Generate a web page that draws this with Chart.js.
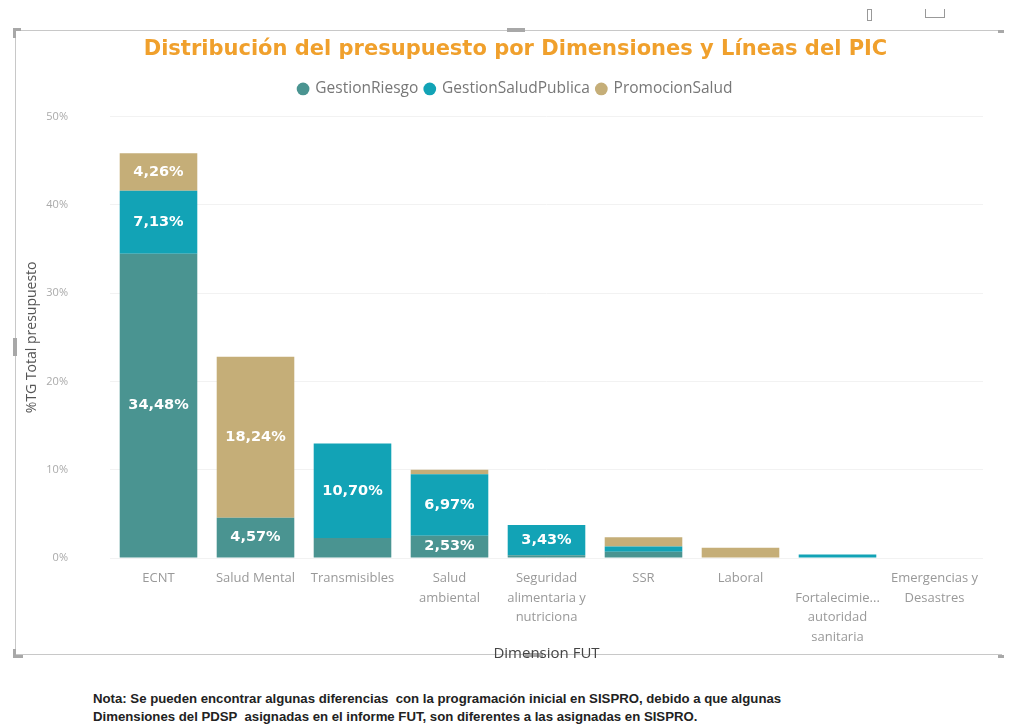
<!DOCTYPE html>
<html>
<head>
<meta charset="utf-8">
<script src="https://cdn.jsdelivr.net/npm/chart.js@4.4.1/dist/chart.umd.min.js"></script>
<style>
  body { margin: 0; background: #fff; width: 1010px; height: 728px; overflow: hidden; font-family: "Open Sans", sans-serif; position: relative; }
  #frame { position: absolute; left: 15px; top: 30px; width: 987px; height: 625px; border: 1px solid #c8c8c8; border-right: none; box-sizing: border-box; }
  #wrap { position: absolute; left: 16px; top: 31px; width: 983px; height: 634px; }
  .handle { position: absolute; background: #a8a8a8; }
  #note { position: absolute; left: 93px; top: 690px; font-family: "Liberation Sans", sans-serif; font-weight: bold; font-size: 13.2px; line-height: 18px; color: #222; white-space: pre; }
</style>
</head>
<body>
<div id="frame"></div>
<div class="handle" style="left:13px;top:28px;width:8px;height:3px;"></div>
<div class="handle" style="left:13px;top:28px;width:3px;height:10px;"></div>
<div class="handle" style="left:13px;top:649px;width:3px;height:9px;"></div>
<div class="handle" style="left:13px;top:655px;width:10px;height:3px;"></div>
<div class="handle" style="left:507px;top:28px;width:18px;height:4px;"></div>
<div class="handle" style="left:525px;top:653px;width:18px;height:4px;"></div>
<div class="handle" style="left:13px;top:338px;width:4px;height:18px;"></div>
<div class="handle" style="left:998px;top:30px;width:6px;height:3px;"></div>
<div class="handle" style="left:998px;top:655px;width:6px;height:3px;"></div>
<div style="position:absolute;left:867px;top:9px;width:3px;height:10px;border:1px solid #999;"></div>
<div style="position:absolute;left:925px;top:9px;width:18px;height:8px;border:1px solid #999;border-top:none;"></div>
<div id="wrap"><canvas id="chart"></canvas></div>
<div id="note">Nota: Se pueden encontrar algunas diferencias  con la programación inicial en SISPRO, debido a que algunas
Dimensiones del PDSP  asignadas en el informe FUT, son diferentes a las asignadas en SISPRO.</div>
<script>
var categories = [
  'ECNT',
  'Salud Mental',
  'Transmisibles',
  ['Salud', 'ambiental'],
  ['Seguridad', 'alimentaria y', 'nutriciona'],
  'SSR',
  'Laboral',
  ['', 'Fortalecimie...', 'autoridad', 'sanitaria'],
  ['Emergencias y', 'Desastres']
];
var gestionRiesgo       = [34.48, 4.57, 2.26, 2.53, 0.30, 0.70, 0, 0, 0];
var gestionSaludPublica = [7.13, 0, 10.70, 6.97, 3.43, 0.60, 0, 0.40, 0];
var promocionSalud      = [4.26, 18.24, 0, 0.50, 0, 1.05, 1.15, 0, 0];
var yTicks = [0, 10, 20, 30, 40, 50];

// labels Power BI shows inside the segments (big enough ones)
var labelMin = 2.5;

const barLabels = {
  id: 'barLabels',
  afterDatasetsDraw(chart) {
    const ctx = chart.ctx;
    ctx.save();
    ctx.font = 'bold 14.5px "DejaVu Sans"';
    ctx.fillStyle = '#ffffff';
    ctx.textAlign = 'center';
    ctx.textBaseline = 'middle';
    chart.data.datasets.forEach(function(ds, i) {
      chart.getDatasetMeta(i).data.forEach(function(bar, j) {
        var v = ds.data[j];
        if (v >= labelMin) {
          var txt = v.toFixed(2).replace('.', ',') + '%';
          ctx.fillText(txt, bar.x, (bar.y + bar.base) / 2);
        }
      });
    });
    ctx.restore();
  }
};

// title and legend sit a bit right of centre in the original visual
const shiftHeader = {
  id: 'shiftHeader',
  afterLayout(chart) {
    [chart.titleBlock, chart.legend].forEach(function(box) {
      if (box) {
        box.left += 12;
        box.right += 12;
      }
    });
  }
};

const data = {
  labels: categories,
  datasets: [{
    label: 'GestionRiesgo',
    backgroundColor: '#4a9491',
    data: gestionRiesgo
  },
  {
    label: 'GestionSaludPublica',
    backgroundColor: '#12a3b6',
    data: gestionSaludPublica
  },
  {
    label: 'PromocionSalud',
    backgroundColor: '#c5ae78',
    data: promocionSalud
  }]
};

const config = {
  type: 'bar',
  data: data,
  options: {
    responsive: true,
    maintainAspectRatio: false,
    animation: false,
    categoryPercentage: 1,
    barPercentage: 0.8,
    layout: { padding: { left: 8, right: 16, top: 0, bottom: 0 } },
    plugins: {
      title: {
        display: true,
        text: 'Distribución del presupuesto por Dimensiones y Líneas del PIC',
        color: '#f0a02c',
        font: { family: 'DejaVu Sans', size: 21, weight: 'bold' },
        padding: { top: 6, bottom: 12 }
      },
      // empty spacer between legend and plot
      subtitle: {
        display: true,
        text: '',
        weight: 500,
        font: { size: 1, lineHeight: 1 },
        padding: { top: 0, bottom: 9 }
      },
      legend: {
        position: 'top',
        labels: {
          usePointStyle: true,
          pointStyle: 'circle',
          boxWidth: 9,
          boxHeight: 9,
          padding: 7,
          color: '#777',
          font: { family: 'Open Sans', size: 15.5 }
        }
      },
      tooltip: { enabled: false }
    },
    scales: {
      x: {
        stacked: true,
        grid: { display: false, drawTicks: false },
        border: { display: false },
        afterFit: function(axis) {
          axis.height = 107;
        },
        ticks: {
          color: '#999',
          font: { family: 'Open Sans', size: 13, lineHeight: 1.5 },
          maxRotation: 0,
          autoSkip: false,
          padding: 11
        },
        title: {
          display: true,
          text: 'Dimension FUT',
          color: '#444',
          font: { family: 'Open Sans', size: 15 },
          padding: { top: 0, bottom: 2 }
        }
      },
      y: {
        stacked: true,
        min: 0,
        max: 50,
        afterBuildTicks: function(axis) {
          axis.ticks = yTicks.map(function(v) { return { value: v }; });
        },
        afterFit: function(axis) {
          axis.width = 86;
        },
        grid: { color: '#f2f2f2', drawTicks: false },
        border: { display: false },
        ticks: {
          color: '#aaa',
          font: { family: 'Open Sans', size: 11 },
          padding: 42,
          callback: function(v) { return v + '%'; }
        },
        title: {
          display: true,
          text: '%TG Total presupuesto',
          color: '#555',
          font: { family: 'Open Sans', size: 14 },
          padding: { top: 0, bottom: 0 }
        }
      }
    }
  },
  plugins: [barLabels, shiftHeader]
};

var reportChart = new Chart(document.getElementById('chart'), config);
</script>
</body>
</html>
